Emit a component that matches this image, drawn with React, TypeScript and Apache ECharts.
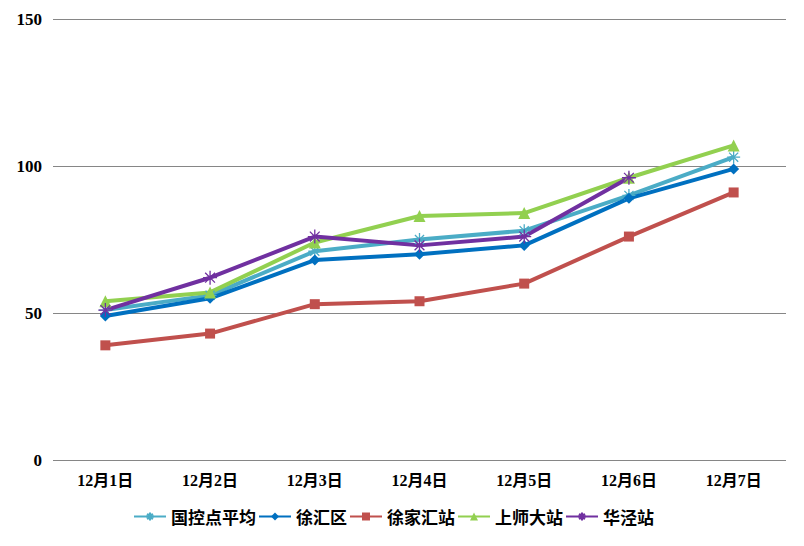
import React, { useEffect, useRef } from "react";
import * as echarts from "echarts";

const categories = ["12月1日", "12月2日", "12月3日", "12月4日", "12月5日", "12月6日", "12月7日"];
const guokongAvg = [51, 56, 71, 75, 78, 90, 103];
const xuhuiQu = [49, 55, 68, 70, 73, 89, 99];
const xujiahui = [39, 43, 53, 54, 60, 76, 91];
const shangshida = [54, 57, 74, 83, 84, 96, 107];
const huajing: (number | null)[] = [51, 62, 76, 73, 76, 96, null];
const yTicks = { min: 0, max: 150, interval: 50 };

const ASTERISK = "path://M0,5L10,5M5,0L5,10M1.5,1.5L8.5,8.5M1.5,8.5L8.5,1.5";

export default function App() {
  const ref = useRef<HTMLDivElement>(null);
  useEffect(() => {
    if (!ref.current) return;
    const chart = echarts.init(ref.current, undefined, { renderer: "svg" });
    const mk = (name: string, data: (number | null)[], color: string, symbol: string, size: number, star = false) => ({
      name,
      type: "line",
      data,
      symbol,
      symbolSize: size,
      lineStyle: { color, width: 4 },
      itemStyle: star
        ? { color, borderColor: color, borderWidth: 1.3 }
        : { color, borderWidth: 0 },
      connectNulls: false,
    });
    chart.setOption({
      animation: false,
      backgroundColor: "#ffffff",
      grid: { left: 53, right: 18, top: 19, bottom: 86 },
      legend: {
        bottom: 16,
        left: 128,
        itemWidth: 32,
        itemHeight: 10,
        itemGap: 2,
        textStyle: {
          fontFamily: "'Noto Sans CJK SC', sans-serif",
          fontWeight: "bold",
          fontSize: 17,
          color: "#000",
        },
        data: ["国控点平均", "徐汇区", "徐家汇站", "上师大站", "华泾站"],
      },
      xAxis: {
        type: "category",
        data: categories,
        boundaryGap: true,
        axisLine: { show: false },
        axisTick: { show: false },
        axisLabel: {
          margin: 12,
          fontFamily: "'Liberation Serif', 'Noto Sans CJK SC', serif",
          fontWeight: "bold",
          fontSize: 16,
          color: "#000",
        },
      },
      yAxis: {
        type: "value",
        min: yTicks.min,
        max: yTicks.max,
        interval: yTicks.interval,
        axisLine: { show: false },
        axisTick: { show: false },
        splitLine: { lineStyle: { color: "#868686", width: 1 } },
        axisLabel: {
          margin: 11,
          fontFamily: "'Liberation Serif', serif",
          fontWeight: "bold",
          fontSize: 17,
          color: "#000",
        },
      },
      series: [
        mk("国控点平均", guokongAvg, "#4BACC6", ASTERISK, 13, true),
        mk("徐汇区", xuhuiQu, "#0070C0", "diamond", 11),
        mk("徐家汇站", xujiahui, "#C0504D", "rect", 10),
        mk("上师大站", shangshida, "#92D050", "triangle", 12),
        mk("华泾站", huajing, "#7030A0", ASTERISK, 14, true),
      ],
    });
    return () => chart.dispose();
  }, []);
  return (
    <div
      ref={ref}
      style={{ position: "absolute", left: 0, top: 0, width: 804, height: 546 }}
    />
  );
}
